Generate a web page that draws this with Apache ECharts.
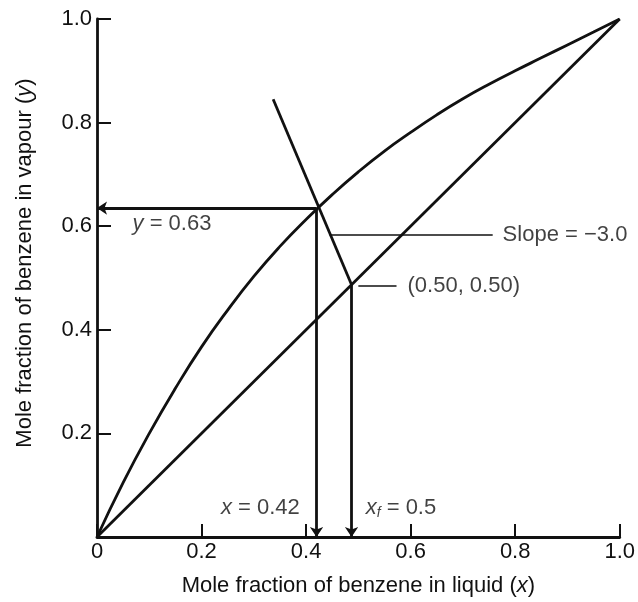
<!DOCTYPE html>
<html>
<head>
<meta charset="utf-8">
<script src="https://cdn.jsdelivr.net/npm/echarts@6/dist/echarts.min.js"></script>
<style>
html, body { margin: 0; background: #fff; }
#chart { width: 638px; height: 602px; }
</style>
</head>
<body>
<div id="chart"></div>
<script>
// tick labels on both axes
const tickValues = [0, 0.2, 0.4, 0.6, 0.8, 1.0]

// equilibrium curve
const eqX = [0, 0.05, 0.1, 0.15, 0.2, 0.25, 0.3, 0.35, 0.4, 0.45, 0.5, 0.55, 0.6, 0.65, 0.7, 0.75, 0.8, 0.85, 0.9, 0.95, 1.0]
const eqY = [0, 0.105, 0.2, 0.287, 0.367, 0.438, 0.503, 0.561, 0.613, 0.661, 0.705, 0.745, 0.781, 0.815, 0.846, 0.874, 0.90, 0.925, 0.95, 0.975, 1.0]

// 45° line
const diagX = [0, 1]
const diagY = [0, 1]

// feed (q) line, from its top end down to the diagonal
const qX = [0.337, 0.487]
const qY = [0.845, 0.487]

// operating point (x = 0.42, y = 0.63) and feed point on the diagonal
const opPoint = [0.42, 0.635]
const feedPoint = [0.487, 0.487]

// leader lines for the two callouts: [x1, x2, y]
const slopeLeader = [0.445, 0.757, 0.584]
const feedLeader = [0.50, 0.573, 0.485]

const FONT = '"Liberation Sans", Arial, Helvetica, sans-serif'
const INK = '#111'
const LW = 2.8
const FS = 22

const zip = (xs, ys) => xs.map((x, i) => [x, ys[i]])

const rich = {
  i: { fontStyle: 'italic', fontSize: FS, fontFamily: FONT, color: INK, lineHeight: 26 },
  n: { fontSize: FS, fontFamily: FONT, color: INK, lineHeight: 26 },
  sub: { fontStyle: 'italic', fontSize: 14, fontFamily: FONT, color: INK, lineHeight: 14, verticalAlign: 'bottom' }
}

function note(coord, text, position, align) {
  return {
    value: coord,
    label: { show: true, position, formatter: text, rich, distance: 0, align }
  }
}

const chart = echarts.init(document.getElementById('chart'))
chart.setOption({
  animation: false,
  backgroundColor: '#fff',
  grid: { left: 97, right: 18, top: 19, bottom: 61 },
  xAxis: {
    type: 'value', min: 0, max: 1, interval: 0.2,
    name: '{n|Mole fraction of benzene in liquid (}{i|x}{n|)}',
    nameLocation: 'middle', nameGap: 36,
    nameTextStyle: { rich },
    axisLine: { show: true, lineStyle: { color: INK, width: LW } },
    axisTick: { show: true, inside: true, length: 13, customValues: tickValues, lineStyle: { color: INK, width: 2 } },
    axisLabel: {
      customValues: tickValues, margin: 4,
      fontFamily: FONT, fontSize: FS, color: INK,
      formatter: (v) => v === 0 ? '0' : v.toFixed(1)
    },
    splitLine: { show: false }
  },
  yAxis: {
    type: 'value', min: 0, max: 1, interval: 0.2,
    name: '{n|Mole fraction of benzene in vapour (}{i|y}{n|)}',
    nameLocation: 'middle', nameGap: 59, nameRotate: 90,
    nameTextStyle: { rich, padding: [0, 0, 0, 30] },
    axisLine: { show: true, lineStyle: { color: INK, width: LW } },
    axisTick: { show: true, inside: true, length: 14, customValues: tickValues, lineStyle: { color: INK, width: 2 } },
    axisLabel: {
      customValues: tickValues, margin: 5,
      fontFamily: FONT, fontSize: FS, color: INK,
      formatter: (v) => v === 0 ? '' : v.toFixed(1)
    },
    splitLine: { show: false }
  },
  series: [
    {
      name: 'equilibrium', type: 'line', smooth: true, showSymbol: false,
      data: zip(eqX, eqY), lineStyle: { color: INK, width: LW }
    },
    {
      name: 'diagonal', type: 'line', showSymbol: false,
      data: zip(diagX, diagY), lineStyle: { color: INK, width: LW }
    },
    {
      name: 'q-line', type: 'line', showSymbol: false,
      data: zip(qX, qY), lineStyle: { color: INK, width: LW }
    },
    {
      name: 'arrows', type: 'lines', coordinateSystem: 'cartesian2d',
      symbol: ['none', 'arrow'], symbolSize: 10,
      lineStyle: { color: INK, width: LW, opacity: 1 },
      data: [
        { coords: [opPoint, [0, opPoint[1]]] },
        { coords: [opPoint, [opPoint[0], 0]] },
        { coords: [feedPoint, [feedPoint[0], 0]] }
      ]
    },
    {
      name: 'leaders', type: 'lines', coordinateSystem: 'cartesian2d',
      symbol: 'none',
      lineStyle: { color: INK, width: 1.6, opacity: 1 },
      data: [
        { coords: [[slopeLeader[0], slopeLeader[2]], [slopeLeader[1], slopeLeader[2]]] },
        { coords: [[feedLeader[0], feedLeader[2]], [feedLeader[1], feedLeader[2]]] }
      ]
    },
    {
      name: 'notes', type: 'scatter', symbolSize: 0, silent: true,
      data: [
        note([0.068, 0.605], '{i|y}{n| = 0.63}', 'right', 'left'),
        note([0.776, slopeLeader[2]], '{n|Slope = \u22123.0}', 'right', 'left'),
        note([0.594, feedLeader[2]], '{n|(0.50, 0.50)}', 'right', 'left'),
        note([0.388, 0.057], '{i|x}{n| = 0.42}', 'left', 'right'),
        note([0.514, 0.057], '{i|x}{sub|f}{n| = 0.5}', 'right', 'left')
      ]
    }
  ]
})
</script>
</body>
</html>
